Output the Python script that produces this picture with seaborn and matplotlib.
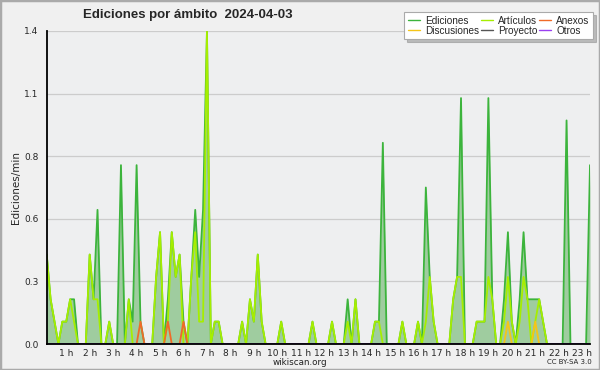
import numpy as np
import pandas as pd
import seaborn as sns
import matplotlib.pyplot as plt
from matplotlib.patches import Rectangle
from matplotlib.ticker import FixedLocator

# edits per minute, one value per 10 minutes (00:10 .. 23:20)
ediciones = [
    0.4, 0.2, 0.1, 0.0, 0.1, 0.1, 0.2, 0.2, 0.0, 0.0,
    0.0, 0.4, 0.2, 0.6, 0.0, 0.0, 0.1, 0.0, 0.0, 0.8,
    0.0, 0.2, 0.1, 0.8, 0.1, 0.0, 0.0, 0.0, 0.3, 0.5,
    0.0, 0.2, 0.5, 0.3, 0.4, 0.1, 0.0, 0.3, 0.6, 0.3,
    0.6, 1.4, 0.0, 0.1, 0.1, 0.0, 0.0, 0.0, 0.0, 0.0,
    0.1, 0.0, 0.2, 0.1, 0.4, 0.1, 0.0, 0.0, 0.0, 0.0,
    0.1, 0.0, 0.0, 0.0, 0.0, 0.0, 0.0, 0.0, 0.1, 0.0,
    0.0, 0.0, 0.0, 0.1, 0.0, 0.0, 0.0, 0.2, 0.0, 0.2,
    0.0, 0.0, 0.0, 0.0, 0.1, 0.1, 0.9, 0.0, 0.0, 0.0,
    0.0, 0.1, 0.0, 0.0, 0.0, 0.1, 0.0, 0.7, 0.3, 0.1,
    0.0, 0.0, 0.0, 0.0, 0.2, 0.3, 1.1, 0.0, 0.0, 0.0,
    0.1, 0.1, 0.1, 1.1, 0.2, 0.0, 0.0, 0.2, 0.5, 0.1,
    0.0, 0.2, 0.5, 0.2, 0.2, 0.2, 0.2, 0.1, 0.0, 0.0,
    0.0, 0.0, 0.0, 1.0, 0.0, 0.0, 0.0, 0.0, 0.0, 0.8,
]
articulos = [
    0.4, 0.2, 0.1, 0.0, 0.1, 0.1, 0.2, 0.1, 0.0, 0.0,
    0.0, 0.4, 0.2, 0.2, 0.0, 0.0, 0.1, 0.0, 0.0, 0.0,
    0.0, 0.2, 0.0, 0.0, 0.0, 0.0, 0.0, 0.0, 0.3, 0.5,
    0.0, 0.1, 0.5, 0.3, 0.4, 0.0, 0.0, 0.3, 0.5, 0.1,
    0.1, 1.4, 0.0, 0.1, 0.1, 0.0, 0.0, 0.0, 0.0, 0.0,
    0.1, 0.0, 0.2, 0.1, 0.4, 0.1, 0.0, 0.0, 0.0, 0.0,
    0.1, 0.0, 0.0, 0.0, 0.0, 0.0, 0.0, 0.0, 0.1, 0.0,
    0.0, 0.0, 0.0, 0.1, 0.0, 0.0, 0.0, 0.1, 0.0, 0.2,
    0.0, 0.0, 0.0, 0.0, 0.1, 0.1, 0.0, 0.0, 0.0, 0.0,
    0.0, 0.1, 0.0, 0.0, 0.0, 0.1, 0.0, 0.1, 0.3, 0.1,
    0.0, 0.0, 0.0, 0.0, 0.2, 0.3, 0.3, 0.0, 0.0, 0.0,
    0.1, 0.1, 0.1, 0.3, 0.2, 0.0, 0.0, 0.1, 0.3, 0.1,
    0.0, 0.1, 0.3, 0.2, 0.0, 0.1, 0.2, 0.1, 0.0, 0.0,
    0.0, 0.0, 0.0, 0.0, 0.0, 0.0, 0.0, 0.0, 0.0, 0.0,
]
# the few non-zero slots of the small namespaces
anexos_idx = [24, 31, 35]
anexos_val = [0.1, 0.1, 0.1]
discusiones_idx = [118, 125]
discusiones_val = [0.1, 0.1]

hour_labels = [f"{h} h" for h in range(1, 24)]

n = len(ediciones)
hours = (np.arange(n) + 1) / 6.0
anexos = np.zeros(n)
anexos[anexos_idx] = anexos_val
discusiones = np.zeros(n)
discusiones[discusiones_idx] = discusiones_val
proyecto = np.zeros(n)
otros = np.zeros(n)

df = pd.DataFrame({
    "hora": hours,
    "Ediciones": ediciones,
    "Artículos": articulos,
    "Anexos": anexos,
    "Discusiones": discusiones,
    "Proyecto": proyecto,
    "Otros": otros,
})

colors = {
    "Ediciones": "#3cb43c",
    "Artículos": "#a6ee00",
    "Anexos": "#f06a28",
    "Discusiones": "#f5c518",
    "Proyecto": "#555555",
    "Otros": "#9a40f0",
}

sns.set_style("white")
plt.rcParams["font.family"] = ["DejaVu Sans"]

fig = plt.figure(figsize=(6, 3.7), dpi=100, facecolor="#f0f0f0")
ax = fig.add_axes([46.7 / 600, 26 / 370, (590 - 46.7) / 600, (344 - 31) / 370])
ax.set_facecolor("#eeeff0")

ax.fill_between(df["hora"], df["Ediciones"], color="#9fcc9f", lw=0, zorder=1)
for name in ["Ediciones", "Artículos", "Anexos", "Discusiones", "Proyecto", "Otros"]:
    sns.lineplot(data=df, x="hora", y=name, color=colors[name], lw=1.3,
                 label=name, ax=ax, zorder=2)

ax.set_xlim(hours[0], hours[-1])
ax.set_ylim(0, 1.4)
ax.xaxis.set_major_locator(FixedLocator(range(1, 24)))
ax.set_xticklabels(hour_labels)
ax.xaxis.set_minor_locator(FixedLocator(hours))
ax.yaxis.set_major_locator(FixedLocator(np.linspace(0, 1.4, 6)))
ax.yaxis.set_minor_locator(FixedLocator(np.linspace(0, 1.4, 21)))
ax.yaxis.set_major_formatter(lambda v, p: f"{v:.1f}")
ax.tick_params(axis="both", which="major", labelsize=6.5, length=5, width=1,
               color="black", pad=1)
ax.tick_params(axis="both", which="minor", length=3, width=1, color="black")
ax.tick_params(axis="x", which="major", length=4, pad=-0.5)
ax.grid(axis="y", which="major", color="#cccccc", lw=0.9)
ax.set_axisbelow(True)

for side in ["top", "right"]:
    ax.spines[side].set_visible(False)
for side in ["left", "bottom"]:
    ax.spines[side].set_color("black")
    ax.spines[side].set_linewidth(1.3)

ax.set_xlabel("")
ax.set_ylabel("Ediciones/min", fontsize=7.5, labelpad=2)

handles, labels = ax.get_legend_handles_labels()
order = ["Ediciones", "Discusiones", "Artículos", "Proyecto", "Anexos", "Otros"]
hmap = dict(zip(labels, handles))
leg = ax.legend([hmap[k] for k in order], order, ncol=3, loc="upper right",
                bbox_to_anchor=(593 / 600, 1 - 12 / 370), bbox_transform=fig.transFigure,
                prop={"family": "Liberation Sans", "size": 7.2}, frameon=True,
                fancybox=False, shadow={"color": "#888888"},
                borderpad=0.35, labelspacing=0.0, handlelength=1.2, handletextpad=0.5,
                columnspacing=0.2, borderaxespad=0)
leg.get_frame().set_edgecolor("#aaaaaa")
leg.get_frame().set_linewidth(0.8)
for line in leg.get_lines():
    line.set_linewidth(1.0)

fig.text(188 / 600, 1 - 15 / 370, "Ediciones por ámbito  2024-04-03", fontsize=9.5,
         fontweight="bold", family="Liberation Sans", ha="center", va="center")
fig.text(0.5, 1 - 362.5 / 370, "wikiscan.org", fontsize=6.3, ha="center", va="center",
         color="#222222")
fig.text(592 / 600, 1 - 362.5 / 370, "CC BY-SA 3.0", fontsize=5, ha="right", va="center",
         color="#222222")
fig.patches.append(Rectangle((0, 0), 1, 1, transform=fig.transFigure, fill=False,
                             edgecolor="#aaaaaa", lw=2.5))

fig.savefig("out.png", dpi=100, facecolor=fig.get_facecolor())
